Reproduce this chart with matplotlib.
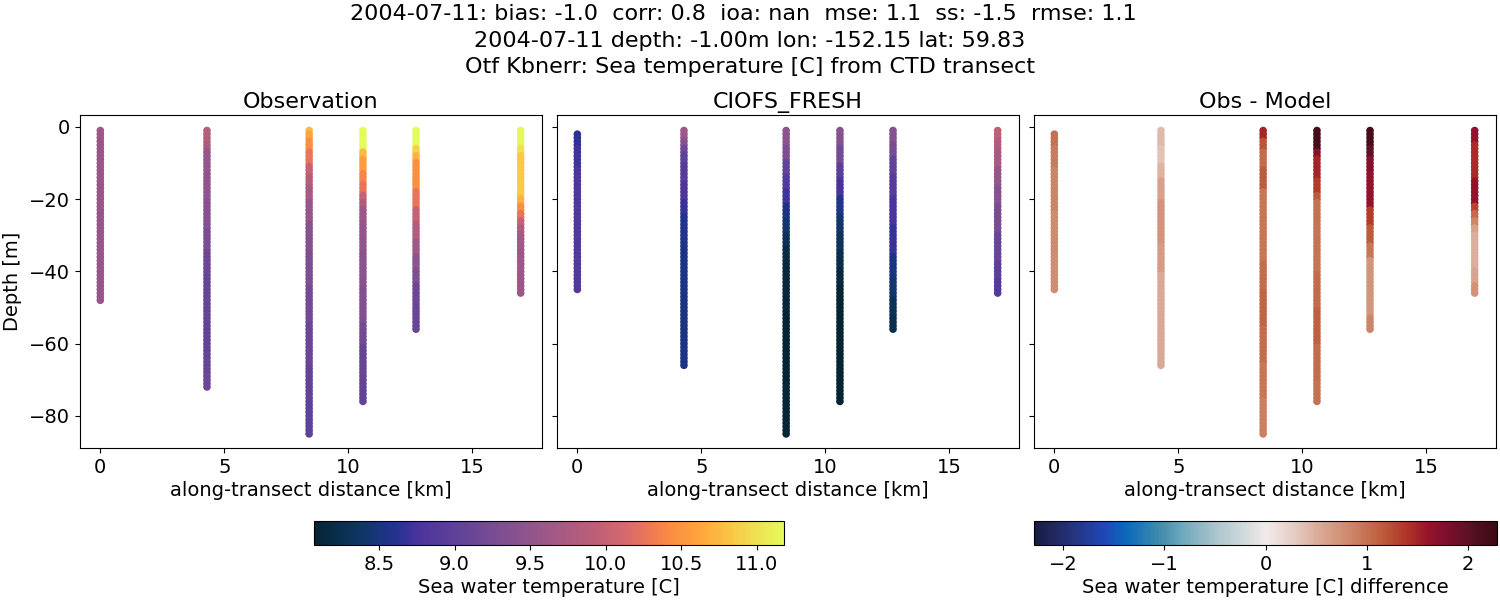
import numpy as np
import matplotlib
matplotlib.use("Agg")
import matplotlib.pyplot as plt
from matplotlib.colors import LinearSegmentedColormap, Normalize
from matplotlib.cm import ScalarMappable

W, H = 1500, 600

stations_km = [0.0, 4.3, 8.42, 10.59, 12.73, 16.95]

# each profile: (value, number of 1 m bins), from the surface down
obs_start = [1, 1, 1, 1, 1, 1]
obs_0 = [(9.6, 3), (9.57, 20), (9.55, 25)]
obs_1 = [(9.85, 4), (9.7, 2), (9.55, 6), (9.48, 8), (9.4, 8), (9.28, 6), (9.15, 6),
         (9.08, 14), (9.05, 8), (9.08, 6), (9.15, 4)]
obs_2 = [(10.75, 1), (10.6, 2), (10.45, 3), (10.25, 4), (10.0, 3), (9.85, 3), (9.7, 4),
         (9.55, 6), (9.4, 8), (9.3, 10), (9.2, 10), (9.12, 12), (9.05, 10), (9.0, 9)]
obs_3 = [(11.17, 6), (10.75, 2), (10.55, 4), (10.4, 3), (10.25, 3), (10.0, 2), (9.8, 2),
         (9.6, 4), (9.5, 8), (9.42, 10), (9.35, 10), (9.2, 6), (9.08, 10), (9.05, 6)]
obs_4 = [(11.17, 5), (10.9, 2), (10.7, 2), (10.45, 8), (10.25, 5), (10.0, 4), (9.8, 5),
         (9.62, 4), (9.45, 4), (9.3, 4), (9.15, 6), (9.1, 7)]
obs_5 = [(11.15, 5), (11.0, 2), (10.85, 12), (10.7, 2), (10.45, 2), (10.25, 2), (10.0, 2),
         (9.8, 2), (9.65, 5), (9.6, 6), (9.58, 6)]

model_start = [2, 1, 1, 1, 1, 1]
model_0 = [(8.65, 4), (8.72, 6), (8.8, 10), (8.85, 14), (8.87, 10)]
model_1 = [(9.6, 3), (9.4, 2), (9.15, 2), (9.0, 3), (8.9, 5), (8.8, 5), (8.68, 4),
           (8.6, 8), (8.55, 14), (8.52, 14), (8.55, 6)]
model_2 = [(9.45, 5), (9.3, 4), (9.05, 4), (8.88, 4), (8.72, 4), (8.55, 4), (8.42, 4),
           (8.28, 4), (8.18, 4), (8.12, 14), (8.08, 20), (8.1, 14)]
model_3 = [(9.4, 5), (9.2, 5), (8.95, 4), (8.75, 5), (8.58, 5), (8.42, 5), (8.32, 5),
           (8.22, 5), (8.14, 5), (8.08, 16), (8.07, 16)]
model_4 = [(9.4, 4), (9.25, 4), (9.05, 5), (8.9, 6), (8.78, 8), (8.68, 8), (8.52, 6),
           (8.42, 6), (8.3, 5), (8.24, 4)]
model_5 = [(9.95, 3), (9.8, 3), (9.7, 5), (9.55, 5), (9.4, 5), (9.28, 8), (9.1, 8),
           (8.98, 5), (8.88, 4)]

diff_0 = [(1.0, 4), (0.92, 6), (0.85, 12), (0.8, 12), (0.78, 10)]
diff_1 = [(0.42, 5), (0.35, 5), (0.45, 4), (0.6, 6), (0.72, 12), (0.66, 8), (0.55, 14), (0.55, 12)]
diff_2 = [(1.5, 3), (1.2, 3), (1.05, 5), (1.15, 6), (0.95, 10), (0.95, 10), (1.03, 8),
          (1.1, 10), (1.03, 10), (0.95, 10), (0.88, 10)]
diff_3 = [(2.2, 6), (1.7, 2), (1.5, 6), (1.35, 4), (1.15, 2), (1.0, 6), (0.98, 14),
          (1.05, 10), (1.12, 10), (1.03, 10), (1.0, 6)]
diff_4 = [(2.2, 5), (2.0, 3), (1.75, 4), (1.65, 10), (1.35, 5), (1.15, 5), (0.95, 4),
          (0.72, 10), (0.7, 6), (0.85, 4)]
diff_5 = [(1.65, 4), (1.45, 10), (1.65, 7), (1.3, 2), (1.05, 2), (0.85, 2), (0.6, 2),
          (0.5, 10), (0.58, 4), (0.75, 3)]

titles = ["Observation", "CIOFS_FRESH", "Obs - Model"]
suptitle = ("2004-07-11: bias: -1.0  corr: 0.8  ioa: nan  mse: 1.1  ss: -1.5  rmse: 1.1  \n"
            "2004-07-11 depth: -1.00m lon: -152.15 lat: 59.83\n"
            "Otf Kbnerr: Sea temperature [C] from CTD transect")
xticks = [0, 5, 10, 15]
yticks = [0, -20, -40, -60, -80]
temp_ticks = [8.5, 9.0, 9.5, 10.0, 10.5, 11.0]
diff_ticks = [-2, -1, 0, 1, 2]

thermal_colors = [(0.0, "#052433"), (0.1, "#0f3766"), (0.17, "#22338f"), (0.22, "#4a339c"),
                  (0.3, "#5f4198"), (0.4, "#7e4f92"), (0.5, "#a05887"), (0.6, "#be5f77"),
                  (0.66, "#d4696d"), (0.72, "#f07a52"), (0.77, "#fb9140"), (0.83, "#ffa83d"),
                  (0.9, "#f8cc48"), (1.0, "#e5fb5c")]
balance_colors = [(0.0, "#181c43"), (0.08, "#26337a"), (0.15, "#2047b8"), (0.2, "#0b6ab9"),
                  (0.282, "#4a91ad"), (0.317, "#6ba7bc"), (0.39, "#a9c4cb"), (0.47, "#dcdfe0"),
                  (0.5, "#f1ecec"), (0.568, "#e5c9bf"), (0.605, "#dcb0a0"), (0.677, "#cf8a6d"),
                  (0.749, "#be5f3f"), (0.806, "#b03526"), (0.85, "#98152b"), (0.89, "#7f0f2d"),
                  (0.95, "#561024"), (1.0, "#3c0912")]
thermal = LinearSegmentedColormap.from_list("thermal_like", thermal_colors, N=256)
balance = LinearSegmentedColormap.from_list("balance_like", balance_colors, N=256)
temp_norm = Normalize(8.07, 11.18)
diff_norm = Normalize(-2.29, 2.29)


def expand(runs):
    return np.repeat([r[0] for r in runs], [r[1] for r in runs])


obs = [expand(p) for p in (obs_0, obs_1, obs_2, obs_3, obs_4, obs_5)]
model = [expand(p) for p in (model_0, model_1, model_2, model_3, model_4, model_5)]
diff = [expand(p) for p in (diff_0, diff_1, diff_2, diff_3, diff_4, diff_5)]

plt.rcParams["font.size"] = 14
fig = plt.figure(figsize=(W / 100, H / 100), dpi=100)


def make_axes(x0, x1, y0, y1):
    return fig.add_axes([x0 / W, 1 - y1 / H, (x1 - x0) / W, (y1 - y0) / H])


axes = [make_axes(80, 542, 115, 448), make_axes(557, 1019, 115, 448), make_axes(1034, 1496, 115, 448)]


def draw(ax, xval, start, vals, cmap, norm):
    depth = -(start + np.arange(len(vals)))
    ax.scatter(np.full(len(vals), xval), depth, c=vals, cmap=cmap, norm=norm, s=30, linewidths=0)


for i, x in enumerate(stations_km):
    draw(axes[0], x, obs_start[i], obs[i], thermal, temp_norm)
    draw(axes[1], x, model_start[i], model[i], thermal, temp_norm)
    draw(axes[2], x, model_start[i], diff[i], balance, diff_norm)

for i, ax in enumerate(axes):
    ax.set_xlim(-0.82, 17.81)
    ax.set_ylim(-88.9, 3.3)
    ax.set_xticks(xticks)
    ax.set_yticks(yticks)
    ax.set_title(titles[i], fontsize=16, pad=5)
    ax.set_xlabel("along-transect distance [km]", fontsize=14, labelpad=3)
    ax.tick_params(labelsize=14)
    if i > 0:
        ax.tick_params(labelleft=False)
axes[0].set_ylabel("Depth [m]", fontsize=14, labelpad=5.5)

cax1 = make_axes(314, 784, 521, 545)
cb1 = fig.colorbar(ScalarMappable(norm=temp_norm, cmap=thermal), cax=cax1, orientation="horizontal")
cb1.set_ticks(temp_ticks)
cb1.ax.set_xticklabels([f"{t:.1f}" for t in temp_ticks])
cb1.ax.tick_params(labelsize=14)
cb1.set_label("Sea water temperature [C]", fontsize=14, labelpad=3)

cax2 = make_axes(1034, 1497, 521, 545)
cb2 = fig.colorbar(ScalarMappable(norm=diff_norm, cmap=balance), cax=cax2, orientation="horizontal")
cb2.set_ticks(diff_ticks)
cb2.ax.tick_params(labelsize=14)
cb2.set_label("Sea water temperature [C] difference", fontsize=14, labelpad=3)

fig.text(0.5, 1 - 4 / H, suptitle, ha="center", va="top", fontsize=16, linespacing=1.42)

fig.savefig("out.png", dpi=100)
